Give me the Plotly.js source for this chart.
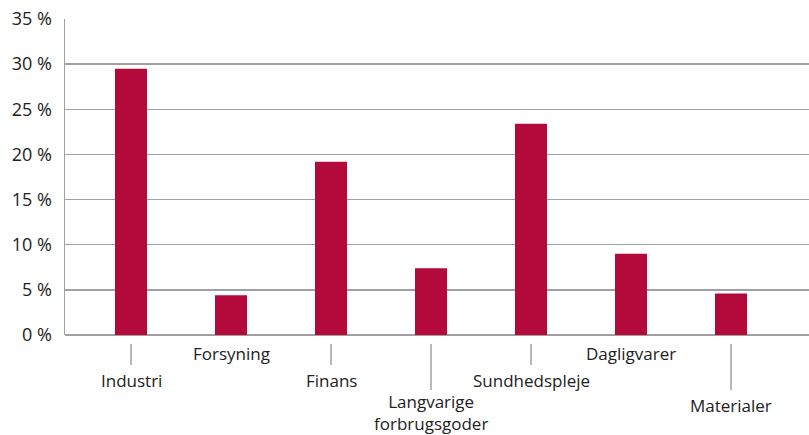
<!DOCTYPE html>
<html><head><meta charset="utf-8">
<script src="https://cdn.plot.ly/plotly-3.0.1.min.js"></script>
<style>body{margin:0;padding:0;background:#fff}#chart{width:809px;height:435px}</style>
</head><body><div id="chart"></div>
<script>
const categories = ["Industri","Forsyning","Finans","Langvarige<br>forbrugsgoder","Sundhedspleje","Dagligvarer","Materialer"];
const values = [29.5, 4.4, 19.2, 7.4, 23.4, 9.0, 4.6];
const yTicks = [0,5,10,15,20,25,30,35];
// label level per category (pixel offset below axis) and tick line length
const labelShift = [-45, -18, -45, -77, -45, -18, -70];
const tickLen = [0.095, 0, 0.095, 0.174, 0.095, 0, 0.174];

const xs = categories.map((c,i)=>i);
const annotations = categories.map((c,i)=>({
  x: i, y: 0, xref:'x', yref:'paper', text: c, showarrow:false,
  yanchor:'middle', xanchor:'center', yshift: labelShift[i],
  font:{family:'Open Sans, sans-serif', size:17, color:'#222'}, align:'center'
}));
const shapes = [];
categories.forEach((c,i)=>{
  if (tickLen[i] > 0) shapes.push({type:'line', xref:'x', yref:'paper', x0:i, x1:i, y0:-0.0285, y1:-tickLen[i], line:{color:'#a0a0a0', width:1.5}});
});

Plotly.newPlot('chart', [{
  type:'bar', x: xs, y: values, width: 0.32,
  marker:{color:'#b30a3b'}, hoverinfo:'skip'
}], {
  width:809, height:435,
  margin:{l:65, r:0, t:19, b:100},
  paper_bgcolor:'#fff', plot_bgcolor:'#fff',
  showlegend:false,
  xaxis:{range:[-0.66, 6.78], showticklabels:false, showgrid:false, zeroline:false, showline:false, ticks:'', fixedrange:true},
  yaxis:{range:[0,35], tickvals:yTicks, ticktext:yTicks.map(v=>v+' %'), showgrid:true, gridcolor:'#a0a0a0', gridwidth:1.5,
    zeroline:true, zerolinecolor:'#a0a0a0', zerolinewidth:1.5, showline:true, linecolor:'#a0a0a0', linewidth:1.5,
    ticks:'', ticklabelstandoff:8, tickfont:{family:'Open Sans, sans-serif', size:18, color:'#222'}, fixedrange:true},
  annotations: annotations, shapes: shapes
}, {displayModeBar:false, staticPlot:true});
</script></body></html>
